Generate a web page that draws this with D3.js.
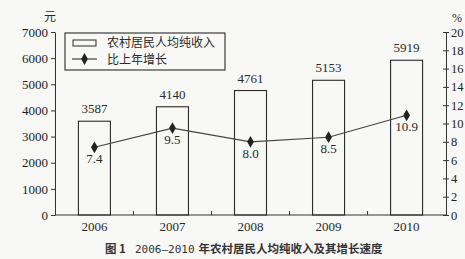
<!DOCTYPE html>
<html lang="zh">
<head>
<meta charset="utf-8" />
<style>
  body { margin: 0; background: #f8f8f6; }
  svg { display: block; }
  .axis path, .axis line { stroke: #333; }
  .axis text { font: 13px "Liberation Serif", serif; fill: #222; }
</style>
</head>
<body>
<script src="https://cdn.jsdelivr.net/npm/d3@7"></script>
<script>
  const years = ["2006", "2007", "2008", "2009", "2010"];
  const income = [3587, 4140, 4761, 5153, 5919];
  const growth = [7.4, 9.5, 8.0, 8.5, 10.9];
  const incomeTicks = [0, 1000, 2000, 3000, 4000, 5000, 6000, 7000];
  const growthTicks = [0, 2, 4, 6, 8, 10, 12, 14, 16, 18, 20];

  const width = 465, height = 259;
  const plotL = 55, plotR = 446, plotT = 32, plotB = 215;

  const svg = d3.select("body").append("svg")
    .attr("width", width)
    .attr("height", height);

  const x = d3.scaleBand().domain(years).range([plotL, plotR]).paddingInner(0.59).paddingOuter(0.3);
  const yL = d3.scaleLinear().domain([0, 7000]).range([plotB, plotT]);
  const yR = d3.scaleLinear().domain([0, 20]).range([plotB, plotT]);

  const serif = '"Liberation Serif", serif';
  const ink = "#2a2a2a";

  // bars
  svg.selectAll("rect.bar")
    .data(years)
    .join("rect")
    .attr("class", "bar")
    .attr("x", d => x(d))
    .attr("y", (d, i) => yL(income[i]))
    .attr("width", x.bandwidth())
    .attr("height", (d, i) => plotB - yL(income[i]))
    .attr("fill", "none")
    .attr("stroke", ink)
    .attr("stroke-width", 1.1);

  svg.selectAll("text.val")
    .data(years)
    .join("text")
    .attr("x", d => x(d) + x.bandwidth() / 2)
    .attr("y", (d, i) => yL(income[i]) - 8)
    .attr("text-anchor", "middle")
    .style("font", "13px " + serif)
    .attr("fill", ink)
    .text((d, i) => income[i]);

  // axes
  svg.append("g").attr("class", "axis")
    .attr("transform", `translate(${plotL},0)`)
    .call(d3.axisLeft(yL).tickValues(incomeTicks).tickFormat(d3.format("d"))
      .tickSize(4).tickSizeOuter(0).tickPadding(3));

  svg.append("g").attr("class", "axis")
    .attr("transform", `translate(${plotR},0)`)
    .call(d3.axisRight(yR).tickValues(growthTicks).tickFormat(d3.format("d"))
      .tickSize(3).tickSizeOuter(0).tickPadding(2))
    .call(g => g.selectAll(".tick line").attr("x1", -3))
    .call(g => g.selectAll(".tick text").style("font-size", "12.5px"));

  // x baseline + inner ticks between categories
  svg.append("line")
    .attr("x1", plotL).attr("x2", plotR)
    .attr("y1", plotB).attr("y2", plotB)
    .attr("stroke", "#333");

  const step = x.step();
  svg.selectAll("line.xt")
    .data(years.slice(1))
    .join("line")
    .attr("x1", d => x(d) + x.bandwidth() / 2 - step / 2)
    .attr("x2", d => x(d) + x.bandwidth() / 2 - step / 2)
    .attr("y1", plotB).attr("y2", plotB - 4)
    .attr("stroke", "#333");

  svg.selectAll("text.yr")
    .data(years)
    .join("text")
    .attr("x", d => x(d) + x.bandwidth() / 2)
    .attr("y", 231)
    .attr("text-anchor", "middle")
    .style("font", "13px " + serif)
    .attr("fill", ink)
    .text(d => d);

  // unit labels
  svg.append("text").attr("x", 50).attr("y", 21).attr("text-anchor", "middle")
    .style("font", "12px 'Noto Sans CJK SC'").attr("fill", ink).text("元");
  svg.append("text").attr("x", 457).attr("y", 22).attr("text-anchor", "middle")
    .style("font", "12px " + serif).attr("fill", ink).text("%");

  // growth line
  const cx = (d, i) => x(years[i]) + x.bandwidth() / 2;
  const line = d3.line().x((d, i) => cx(d, i)).y(d => yR(d));
  svg.append("path")
    .datum(growth)
    .attr("d", line)
    .attr("fill", "none")
    .attr("stroke", "#444")
    .attr("stroke-width", 1.2);

  const diamond = d3.symbol().type(d3.symbolDiamond).size(40);
  svg.selectAll("path.pt")
    .data(growth)
    .join("path")
    .attr("transform", (d, i) => `translate(${cx(d, i)},${yR(d)})`)
    .attr("d", diamond)
    .attr("fill", "#222");

  svg.selectAll("text.gv")
    .data(growth)
    .join("text")
    .attr("x", (d, i) => cx(d, i))
    .attr("y", d => yR(d) + 16)
    .attr("text-anchor", "middle")
    .style("font", "13px " + serif)
    .attr("fill", ink)
    .text(d => d.toFixed(1));

  // legend
  const lg = svg.append("g");
  lg.append("rect").attr("x", 65).attr("y", 33).attr("width", 160).attr("height", 37)
    .attr("fill", "#f8f8f6").attr("stroke", ink).attr("stroke-width", 1.1);
  lg.append("rect").attr("x", 73).attr("y", 40).attr("width", 23).attr("height", 6)
    .attr("fill", "none").attr("stroke", ink);
  lg.append("line").attr("x1", 72).attr("x2", 97).attr("y1", 59).attr("y2", 59)
    .attr("stroke", "#444").attr("stroke-width", 1.2);
  lg.append("path").attr("transform", "translate(84.5,59)").attr("d", diamond).attr("fill", "#222");
  lg.append("text").attr("x", 107).attr("y", 47).style("font", "12px 'Noto Sans CJK SC'")
    .attr("fill", ink).text("农村居民人均纯收入");
  lg.append("text").attr("x", 107).attr("y", 64).style("font", "12px 'Noto Sans CJK SC'")
    .attr("fill", ink).text("比上年增长");

  // caption
  const cap = svg.append("text").attr("x", 105).attr("y", 253)
    .style("font", "bold 11.5px 'Noto Sans CJK SC'").attr("fill", "#333");
  cap.append("tspan").text("图 1");
  cap.append("tspan").attr("x", 135).style("font", "11px 'DejaVu Sans Mono', monospace").style("font-weight", "normal").text("2006—2010");
  cap.append("tspan").attr("dx", 4).text("年农村居民人均纯收入及其增长速度");
</script>
</body>
</html>
